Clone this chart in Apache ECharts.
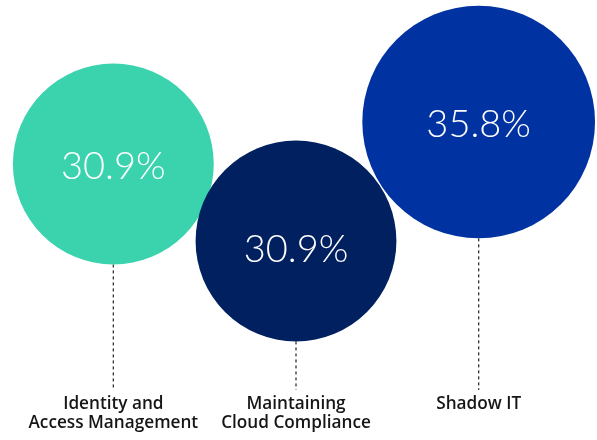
<!DOCTYPE html>
<html>
<head>
<meta charset="utf-8">
<script src="https://cdn.jsdelivr.net/npm/echarts@6/dist/echarts.min.js"></script>
<style>
  html, body { margin: 0; padding: 0; background: #fff; }
  #chart { width: 597px; height: 440px; }
</style>
</head>
<body>
<div id="chart"></div>
<script>
const categories = ['Identity and\nAccess Management', 'Maintaining\nCloud Compliance', 'Shadow IT'];
const values = [30.9, 30.9, 35.8];
const colors = ['#3ad3ae', '#002060', '#0033a1'];
// vertical placement of each bubble centre (chart is laid out, not a real scale)
const centerY = [164, 241, 122];
const textShift = [3, 9, 3];

const RADIUS_PER_PCT = 3.25;
const LINE_END = 390;
const LABEL_TOP = 395;

const chart = echarts.init(document.getElementById('chart'));

const option = {
    animation: false,
    grid: { left: 22, width: 548, top: 0, height: 440 },
    xAxis: { type: 'category', data: categories, show: false },
    yAxis: { type: 'value', min: 0, max: 440, inverse: true, show: false },
    series: [
        {
            type: 'custom',
            data: values.map((v, i) => [i, centerY[i], v]),
            renderItem: (params, api) => {
                const i = api.value(0);
                const c = api.coord([i, api.value(1)]);
                const r = api.value(2) * RADIUS_PER_PCT;
                const bottom = api.coord([i, LINE_END]);
                const labelPos = api.coord([i, LABEL_TOP]);
                return {
                    type: 'group',
                    children: [
                        {
                            type: 'line',
                            shape: { x1: c[0], y1: c[1] + r, x2: c[0], y2: bottom[1] },
                            style: { stroke: '#333', lineWidth: 1.3, lineDash: [3, 3] }
                        },
                        {
                            type: 'circle',
                            shape: { cx: c[0], cy: c[1], r: r },
                            style: { fill: colors[i] }
                        },
                        {
                            type: 'text',
                            x: c[0],
                            y: c[1] + textShift[i],
                            style: {
                                text: api.value(2).toFixed(1) + '%',
                                fill: '#fff',
                                font: '300 38px Lato, "Open Sans", sans-serif',
                                align: 'center',
                                verticalAlign: 'middle'
                            }
                        },
                        {
                            type: 'text',
                            x: labelPos[0],
                            y: labelPos[1],
                            style: {
                                text: categories[i],
                                fill: '#161616',
                                font: '600 17.2px "Open Sans", sans-serif',
                                lineHeight: 19,
                                align: 'center',
                                verticalAlign: 'top'
                            }
                        }
                    ]
                };
            }
        }
    ]
};
chart.setOption(option);
</script>
</body>
</html>
